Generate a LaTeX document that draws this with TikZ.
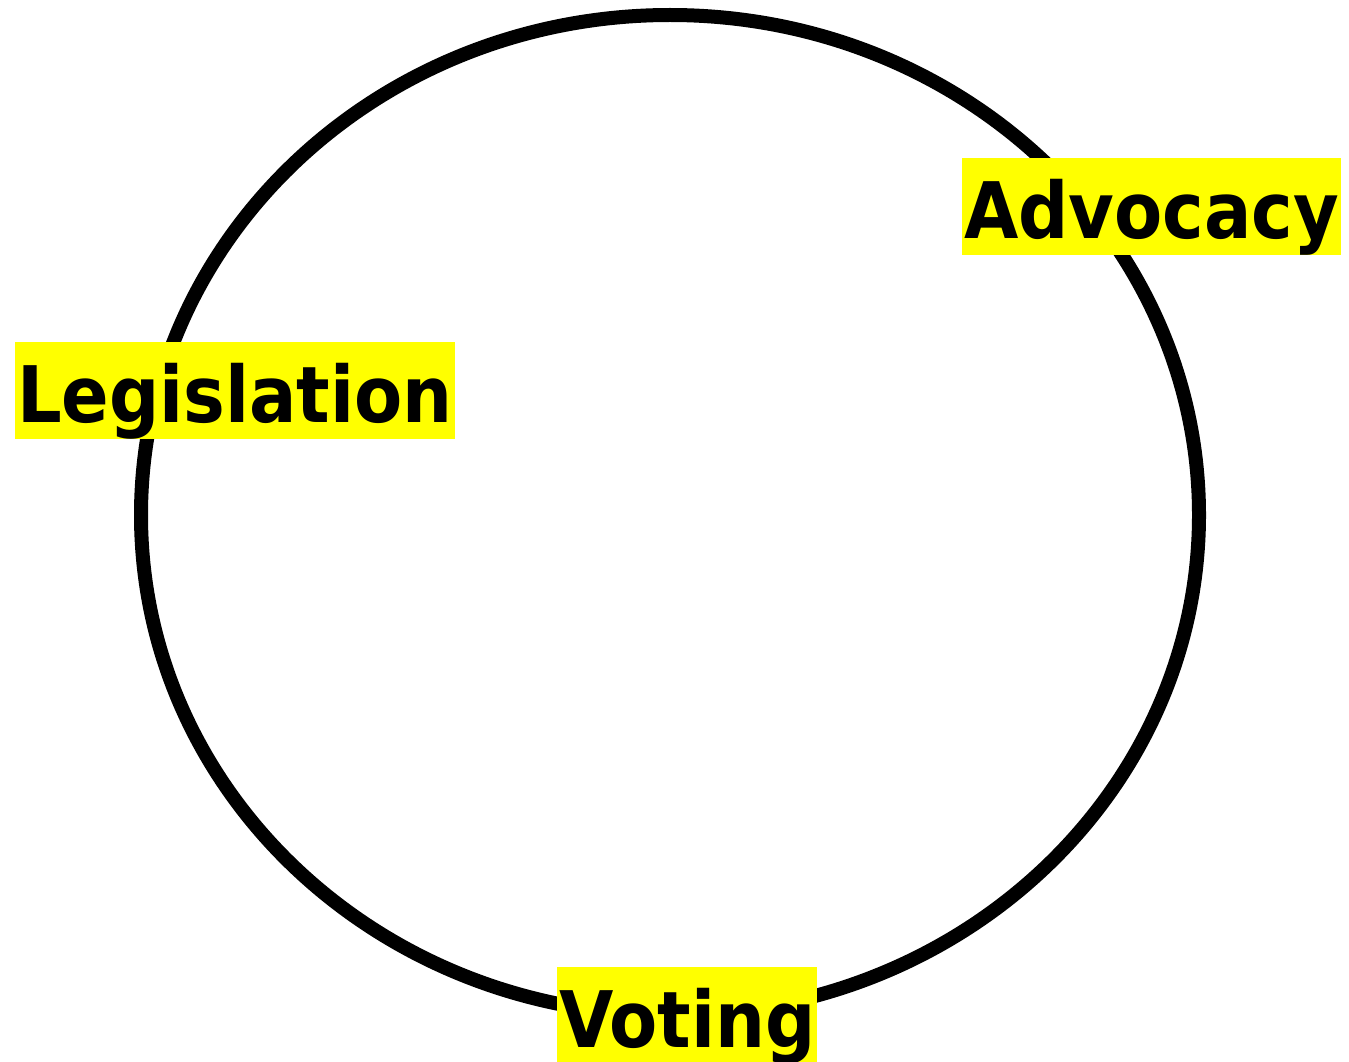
\documentclass[tikz,border=0pt]{standalone}
\usepackage{fontspec}
\newfontfamily\labelfont{DejaVu Sans Condensed}[BoldFont={DejaVu Sans Condensed Bold}]
\definecolor{hlyellow}{RGB}{255,255,0}
\begin{document}
\begin{tikzpicture}[x=1pt,y=-1pt,
  lbl/.style={fill=hlyellow, font=\labelfont\bfseries\fontsize{78}{90}\selectfont,
    inner xsep=2pt, inner ysep=0pt, text height=80pt, text depth=17pt, anchor=north west}]
  \useasboundingbox (0,0) rectangle (1349,1062);
  \draw[line width=14pt] (670,515) ellipse [x radius=529, y radius=500];
  \node[lbl] (adv) at (962,158) {Advocacy};
  \node[lbl] (leg) at (15,342) {Legislation};
  \node[lbl] (vot) at (557,967) {Voting};
\end{tikzpicture}
\end{document}
